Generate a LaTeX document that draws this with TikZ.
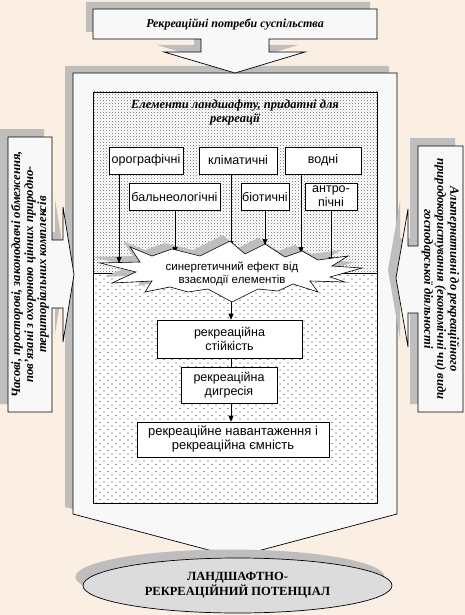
\documentclass[tikz,border=0pt]{standalone}
\usepackage{fontspec}
\setmainfont{Liberation Serif}
\newfontfamily\arialf{Liberation Sans}
\usetikzlibrary{arrows.meta,patterns,shapes.geometric}
\definecolor{bgc}{HTML}{FBEEE2}
\definecolor{shc}{HTML}{BEBEBE}
\definecolor{clc}{HTML}{F8F8F8}
\definecolor{elc}{HTML}{DCDCDC}
\pgfdeclarepatternformonly{densedots}{\pgfpoint{-1pt}{-1pt}}{\pgfpoint{4pt}{4pt}}{\pgfpoint{3pt}{3pt}}{%
  \pgfpathcircle{\pgfpoint{0pt}{0pt}}{0.42pt}\pgfpathcircle{\pgfpoint{1.5pt}{1.5pt}}{0.42pt}\pgfusepath{fill}}
\pgfdeclarepatternformonly{sparsedots}{\pgfpoint{-1pt}{-1pt}}{\pgfpoint{9pt}{9pt}}{\pgfpoint{8pt}{7pt}}{%
  \pgfpathcircle{\pgfpoint{0pt}{0pt}}{0.55pt}\pgfpathcircle{\pgfpoint{4pt}{3.5pt}}{0.55pt}\pgfusepath{fill}}
\tikzset{
  shadowshape/.style={fill=shc},
  calloutshape/.style={fill=clc,draw=black,line width=0.7pt},
  ebox/.style={draw=black,fill=white,line width=0.6pt,inner sep=0pt,align=center,
    font=\arialf\fontsize{12.5}{14}\selectfont},
  arr/.style={line width=0.6pt,-{Triangle[length=6pt,width=5pt]}},
  plain/.style={line width=0.6pt},
  btitle/.style={font=\bfseries\itshape\fontsize{12}{14}\selectfont,align=center,inner sep=0pt},
}
\begin{document}
\begin{tikzpicture}[x=1pt,y=-1pt]
\useasboundingbox (0,0) rectangle (465,615);
\fill[bgc] (0,0) rectangle (465,615);
% top callout shadow and big callout shadow
\fill[shadowshape] (86,2) -- (370,2) -- (370,32) -- (262,32) -- (262,45) -- (298,45) -- (228,66) -- (157,45) -- (194,45) -- (194,32) -- (86,32) -- cycle;
\fill[shadowshape] (65,66) -- (389,66) -- (389,507) -- (227,550) -- (65,507) -- cycle;
% big callout
\draw[calloutshape] (73,73) -- (397,73) -- (397,514) -- (235,557) -- (73,514) -- cycle;
% top callout
\draw[calloutshape] (93,9) -- (377,9) -- (377,39) -- (269,39) -- (269,52) -- (305,52) -- (235,73) -- (164,52) -- (201,52) -- (201,39) -- (93,39) -- cycle;
\node[btitle] (need) at (235,24) {Рекреаційні потреби суспільства};
% left callout
\fill[shadowshape] (0,129) -- (44,129) -- (44,232) -- (55,232) -- (55,199) -- (66,266.5) -- (55,334) -- (55,300) -- (44,300) -- (44,404) -- (0,404) -- cycle;
\draw[calloutshape] (8,137) -- (52,137) -- (52,240) -- (63,240) -- (63,207) -- (74,274.5) -- (63,342) -- (63,308) -- (52,308) -- (52,412) -- (8,412) -- cycle;
\node[btitle,rotate=90,font=\bfseries\itshape\fontsize{12.6}{13}\selectfont] (limits) at (30,274.5)
  {Часові, просторові, законодавчі обмеження,\\пов'язані з охороною цінних природно-\\територіальних комплексів};
% right callout
\fill[shadowshape] (455,138) -- (410,138) -- (410,238) -- (400,238) -- (400,201) -- (388,270) -- (400,339) -- (400,305) -- (410,305) -- (410,404) -- (455,404) -- cycle;
\draw[calloutshape] (463,146) -- (418,146) -- (418,246) -- (408,246) -- (408,209) -- (396,278) -- (408,347) -- (408,313) -- (418,313) -- (418,412) -- (463,412) -- cycle;
\node[btitle,rotate=-90,font=\bfseries\itshape\fontsize{12.6}{13}\selectfont] (alt) at (440.5,279)
  {Альтернативні до рекреаційного\\природокористування (економічні чи) види\\господарської діяльності};
% inner regions
\fill[white] (93,92) rectangle (377,503);
\fill[pattern=densedots,pattern color=black!75] (93,92) rectangle (377,273);
\fill[pattern=sparsedots,pattern color=black!80] (93,273) rectangle (377,503);
\draw[plain] (93,92) rectangle (377,503);
\draw[plain] (93,273) -- (377,273);
\node[btitle,font=\bfseries\itshape\fontsize{12.5}{14}\selectfont] (elem) at (235,112) {Елементи ландшафту, придатні для\\рекреації};
% element boxes
\node[ebox,minimum width=74,minimum height=27] (oro) at (146,160.5) {орографічні};
\node[ebox,minimum width=78,minimum height=27] (klim) at (238,160.5) {кліматичні};
\node[ebox,minimum width=76,minimum height=27] (vod) at (323,160.5) {водні};
\node[ebox,minimum width=91,minimum height=27] (baln) at (174.5,196.5) {бальнеологічні};
\node[ebox,minimum width=48,minimum height=27] (biot) at (265,196.5) {біотичні};
\node[ebox,minimum width=52,minimum height=27] (antr) at (331,196.5) {антро-\\пічні};
% star shadow and star
\fill[shadowshape,shift={(-7,-6)}] (100,263) -- (140,262) -- (130,247) -- (152,256) -- (172,249) -- (200,256) -- (230,241) -- (245,254) -- (265,244) -- (285,257) -- (302,251) -- (318,260) -- (348,256) -- (332,266) -- (362,268) -- (330,277) -- (345,282) -- (310,281) -- (318,292) -- (293,284) -- (278,291) -- (258,289) -- (232,302) -- (208,289) -- (188,292) -- (170,287) -- (145,292) -- (152,281) -- (112,283) -- (136,272) -- cycle;
\coordinate (e1) at (119,263);
\coordinate (e2) at (175,253);
\coordinate (e3) at (231,247);
\coordinate (e4) at (265,245);
\coordinate (e5) at (301,253);
\coordinate (e6) at (331,263);
\draw[arr] (oro.south -| e1) -- (e1);
\draw[arr] (baln.south -| e2) -- (e2);
\draw[arr] (klim.south -| e3) -- (e3);
\draw[arr] (biot.south -| e4) -- (e4);
\draw[arr] (vod.south -| e5) -- (e5);
\draw[arr] (antr.south -| e6) -- (e6);
\draw[fill=white,line width=0.6pt] (100,263) -- (140,262) -- (130,247) -- (152,256) -- (172,249) -- (200,256) -- (230,241) -- (245,254) -- (265,244) -- (285,257) -- (302,251) -- (318,260) -- (348,256) -- (332,266) -- (362,268) -- (330,277) -- (345,282) -- (310,281) -- (318,292) -- (293,284) -- (278,291) -- (258,289) -- (232,302) -- (208,289) -- (188,292) -- (170,287) -- (145,292) -- (152,281) -- (112,283) -- (136,272) -- cycle;
\coordinate (stip) at (231,302);
\node[align=center,inner sep=0pt,font=\arialf\fontsize{11.5}{13}\selectfont] (syn) at (232,274) {синергетичний ефект від\\взаємодії елементів};
% lower boxes
\node[ebox,minimum width=145,minimum height=38] (stiy) at (229.5,339) {рекреаційна\\стійкість};
\node[ebox,minimum width=96,minimum height=36] (digr) at (229,385) {рекреаційна\\дигресія};
\node[ebox,minimum width=192,minimum height=35,font=\arialf\fontsize{13}{14}\selectfont] (nav) at (233,439.5) {рекреаційне навантаження і\\рекреаційна ємність};
\draw[arr] (stip) -- (stiy.north -| stip);
\draw[plain] (stiy.south -| stip) -- (digr.north -| stip);
\draw[arr] (digr.south -| stip) -- (nav.north -| stip);
% potential ellipse
\fill[shadowshape] (230,577) ellipse [x radius=154.5,y radius=27.5];
\node[ellipse,draw=black,fill=elc,line width=0.7pt,minimum width=309,minimum height=55,inner sep=0pt,align=center,
  font=\bfseries\fontsize{12.5}{15}\selectfont] (pot) at (237.5,585.5) {ЛАНДШАФТНО-\\РЕКРЕАЦІЙНИЙ ПОТЕНЦІАЛ};
\end{tikzpicture}
\end{document}
